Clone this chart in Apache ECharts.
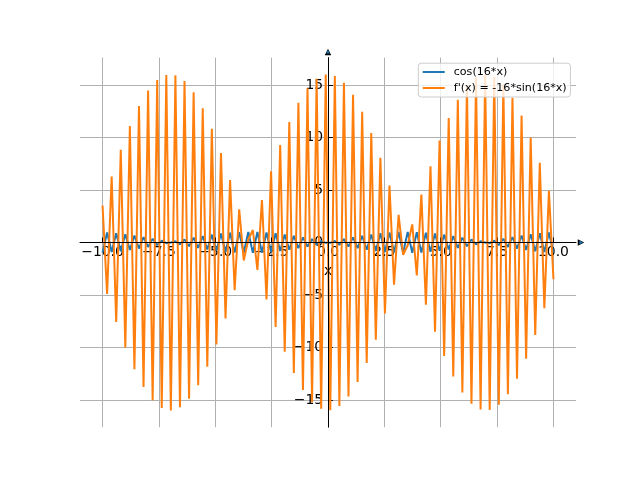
<!DOCTYPE html>
<html>
<head>
<meta charset="utf-8">
<script src="https://cdn.jsdelivr.net/npm/echarts@6/dist/echarts.min.js"></script>
<style>html,body{margin:0;padding:0;background:#fff}#c{width:640px;height:480px}</style>
</head>
<body>
<div id="c"></div>
<script>
// ---- data ----
const xs = [-10, -9.798, -9.596, -9.394, -9.192, -8.990, -8.788, -8.586, -8.384, -8.182,
  -7.980, -7.778, -7.576, -7.374, -7.172, -6.970, -6.768, -6.566, -6.364, -6.162,
  -5.960, -5.758, -5.556, -5.354, -5.152, -4.949, -4.747, -4.545, -4.343, -4.141,
  -3.939, -3.737, -3.535, -3.333, -3.131, -2.929, -2.727, -2.525, -2.323, -2.121,
  -1.919, -1.717, -1.515, -1.313, -1.111, -0.909, -0.707, -0.505, -0.303, -0.101,
  0.101, 0.303, 0.505, 0.707, 0.909, 1.111, 1.313, 1.515, 1.717, 1.919,
  2.121, 2.323, 2.525, 2.727, 2.929, 3.131, 3.333, 3.535, 3.737, 3.939,
  4.141, 4.343, 4.545, 4.747, 4.949, 5.152, 5.354, 5.556, 5.758, 5.960,
  6.162, 6.364, 6.566, 6.768, 6.970, 7.172, 7.374, 7.576, 7.778, 7.980,
  8.182, 8.384, 8.586, 8.788, 8.990, 9.192, 9.394, 9.596, 9.798, 10];

const cosVals = [-0.976, 0.952, -0.920, 0.881, -0.834, 0.781, -0.721, 0.655, -0.584, 0.508,
  -0.428, 0.344, -0.258, 0.169, -0.079, -0.011, 0.102, -0.192, 0.280, -0.366,
  0.448, -0.528, 0.602, -0.672, 0.737, -0.795, 0.847, -0.891, 0.929, -0.958,
  0.980, -0.994, 1.000, -0.997, 0.987, -0.968, 0.941, -0.906, 0.864, -0.815,
  0.759, -0.697, 0.629, -0.556, 0.479, -0.397, 0.312, -0.225, 0.136, -0.045,
  -0.045, 0.136, -0.225, 0.312, -0.397, 0.479, -0.556, 0.629, -0.697, 0.759,
  -0.815, 0.864, -0.906, 0.941, -0.968, 0.987, -0.997, 1.000, -0.994, 0.980,
  -0.958, 0.929, -0.891, 0.847, -0.795, 0.737, -0.672, 0.602, -0.528, 0.448,
  -0.366, 0.280, -0.192, 0.102, -0.011, -0.079, 0.169, -0.258, 0.344, -0.428,
  0.508, -0.584, 0.655, -0.721, 0.781, -0.834, 0.881, -0.920, 0.952, -0.976];

const fVals = [3.511, -4.911, 6.270, -7.578, 8.823, -9.997, 11.088, -12.087, 12.987, -13.781,
  14.460, -15.021, 15.459, -15.769, 15.950, -15.999, 15.917, -15.703, 15.361, -14.892,
  14.301, -13.592, 12.771, -11.845, 10.822, -9.710, 8.518, -7.256, 5.933, -4.563,
  3.154, -1.720, 0.272, 1.179, -2.620, 4.039, -5.425, 6.767, -8.053, 9.272,
  -10.416, 11.473, -12.436, 13.297, -14.049, 14.685, -15.200, 15.590, -15.852, 15.984,
  -15.984, 15.852, -15.590, 15.200, -14.685, 14.049, -13.297, 12.436, -11.473, 10.416,
  -9.272, 8.053, -6.767, 5.425, -4.039, 2.620, -1.179, -0.272, 1.720, -3.154,
  4.563, -5.933, 7.256, -8.518, 9.710, -10.822, 11.845, -12.771, 13.592, -14.301,
  14.892, -15.361, 15.703, -15.917, 15.999, -15.950, 15.769, -15.459, 15.021, -14.460,
  13.781, -12.987, 12.087, -11.088, 9.997, -8.823, 7.578, -6.270, 4.911, -3.511];

const seriesNames = ['cos(16*x)', "f'(x) = -16*sin(16*x)"];
const xTickValues = [-10, -7.5, -5, -2.5, 0, 2.5, 5, 7.5, 10];
const xTickLabels = ['\u221210.0', '\u22127.5', '\u22125.0', '\u22122.5', '0.0', '2.5', '5.0', '7.5', '10.0'];
const yTickValues = [-15, -10, -5, 0, 5, 10, 15];
const yTickLabels = ['\u221215', '\u221210', '\u22125', '0', '5', '10', '15'];
const xAxisTitle = 'x';

// ---- chart ----
const FONT = 'DejaVu Sans';
const BLUE = '#1f77b4', ORANGE = '#ff7f0e';
function lookup(vals, labels) {
  return function (v) {
    for (let i = 0; i < vals.length; i++) if (Math.abs(vals[i] - v) < 1e-6) return labels[i];
    return '';
  };
}
const pairs = (ys) => xs.map((x, i) => [x, ys[i]]);

// plot-area geometry (axes box of the reference)
const AX = {left: 80, right: 64, top: 57.6, bottom: 52.8};
const W = 640, H = 480;
const xMin = -11, xMax = 11, yMin = -17.6, yMax = 17.6;
const plotW = W - AX.left - AX.right, plotH = H - AX.top - AX.bottom;
const zeroXpx = AX.left + plotW * (0 - xMin) / (xMax - xMin);
const zeroYpx = AX.top + plotH * (yMax - 0) / (yMax - yMin);
const pxPerX = plotW / (xMax - xMin), pxPerY = plotH / (yMax - yMin);

const chart = echarts.init(document.getElementById('c'), null, {renderer: 'canvas'});
const gridLine = {show: true, lineStyle: {color: '#b0b0b0', width: 1}};
const tick = {show: true, inside: true, length: 4.9, lineStyle: {color: '#000', width: 1}};
const gA = {left: AX.left, right: AX.right, top: zeroYpx - 15 * pxPerY, bottom: H - (zeroYpx + 15 * pxPerY)};
const gB = {left: zeroXpx - 10 * pxPerX, right: W - (zeroXpx + 10 * pxPerX), top: AX.top, bottom: AX.bottom};
chart.setOption({
  animation: false,
  backgroundColor: '#ffffff',
  grid: [
    Object.assign({containLabel: false, outerBoundsMode: 'none'}, AX),
    Object.assign({containLabel: false, outerBoundsMode: 'none'}, gA),
    Object.assign({containLabel: false, outerBoundsMode: 'none'}, gB)
  ],
  xAxis: [
    {gridIndex: 0, type: 'value', min: xMin, max: xMax, z: 5,
     axisLine: {show: true, onZero: true, symbol: ['none', 'triangle'], symbolSize: [6.5, 6.5], symbolOffset: [0, 5],
                lineStyle: {color: '#000', width: 1}},
     axisTick: {show: false}, axisLabel: {show: false}, splitLine: {show: false}},
    {gridIndex: 1, type: 'value', min: xMin, max: xMax, z: 6,
     axisLine: {show: true, onZero: true, symbol: ['none', 'triangle'], symbolSize: [3.6, 3.6], symbolOffset: [0, 5.2],
                lineStyle: {color: BLUE, width: 0}},
     axisTick: {show: false}, axisLabel: {show: false}, splitLine: {show: false}},
    {gridIndex: 2, type: 'value', min: -10, max: 10, interval: 2.5, z: 0,
     position: 'bottom', offset: -(H - AX.bottom - zeroYpx),
     axisLine: {show: false, onZero: false},
     axisTick: tick,
     axisLabel: {show: true, margin: 10, verticalAlign: 'middle', fontFamily: FONT, fontSize: 13.9, color: '#000',
                 showMinLabel: true, showMaxLabel: true, hideOverlap: false,
                 formatter: lookup(xTickValues, xTickLabels)},
     splitLine: gridLine,
     name: xAxisTitle, nameLocation: 'middle', nameGap: 26.5,
     nameTextStyle: {fontFamily: FONT, fontSize: 13.9, color: '#000', verticalAlign: 'middle', align: 'center'}}
  ],
  yAxis: [
    {gridIndex: 0, type: 'value', min: yMin, max: yMax, z: 5,
     axisLine: {show: true, onZero: true, symbol: ['none', 'triangle'], symbolSize: [6.5, 6.5], symbolOffset: [0, 5.6],
                lineStyle: {color: '#000', width: 1}},
     axisTick: {show: false}, axisLabel: {show: false}, splitLine: {show: false}},
    {gridIndex: 1, type: 'value', min: -15, max: 15, interval: 5, z: 0,
     position: 'left', offset: -(zeroXpx - AX.left),
     axisLine: {show: false, onZero: false},
     axisTick: tick,
     axisLabel: {show: true, margin: 4.9, fontFamily: FONT, fontSize: 13.9, color: '#000',
                 showMinLabel: true, showMaxLabel: true, hideOverlap: false,
                 formatter: lookup(yTickValues, yTickLabels)},
     splitLine: gridLine},
    {gridIndex: 2, type: 'value', min: yMin, max: yMax, z: 6,
     axisLine: {show: true, onZero: true, symbol: ['none', 'triangle'], symbolSize: [3.6, 3.6], symbolOffset: [0, 5.8],
                lineStyle: {color: BLUE, width: 0}},
     axisTick: {show: false}, axisLabel: {show: false}, splitLine: {show: false}}
  ],
  legend: {
    orient: 'vertical', right: 69.6, top: 63.2,
    padding: [3.3, 3.7, 3.5, 4.4], itemGap: 5, itemWidth: 22, itemHeight: 2, icon: 'rect',
    backgroundColor: 'rgba(255,255,255,0.8)', borderColor: '#cccccc', borderWidth: 1, borderRadius: 3,
    textStyle: {fontFamily: FONT, fontSize: 11.1, color: '#000', padding: [0, 0, 0, 4]},
    data: seriesNames
  },
  series: [
    {name: seriesNames[0], type: 'line', xAxisIndex: 0, yAxisIndex: 0, data: pairs(cosVals),
     showSymbol: false, symbol: 'none', color: BLUE, lineStyle: {color: BLUE, width: 2}, z: 2, silent: true},
    {name: seriesNames[1], type: 'line', xAxisIndex: 0, yAxisIndex: 0, data: pairs(fVals),
     showSymbol: false, symbol: 'none', color: ORANGE, lineStyle: {color: ORANGE, width: 2}, z: 2, silent: true}
  ]
});
</script>
</body>
</html>
